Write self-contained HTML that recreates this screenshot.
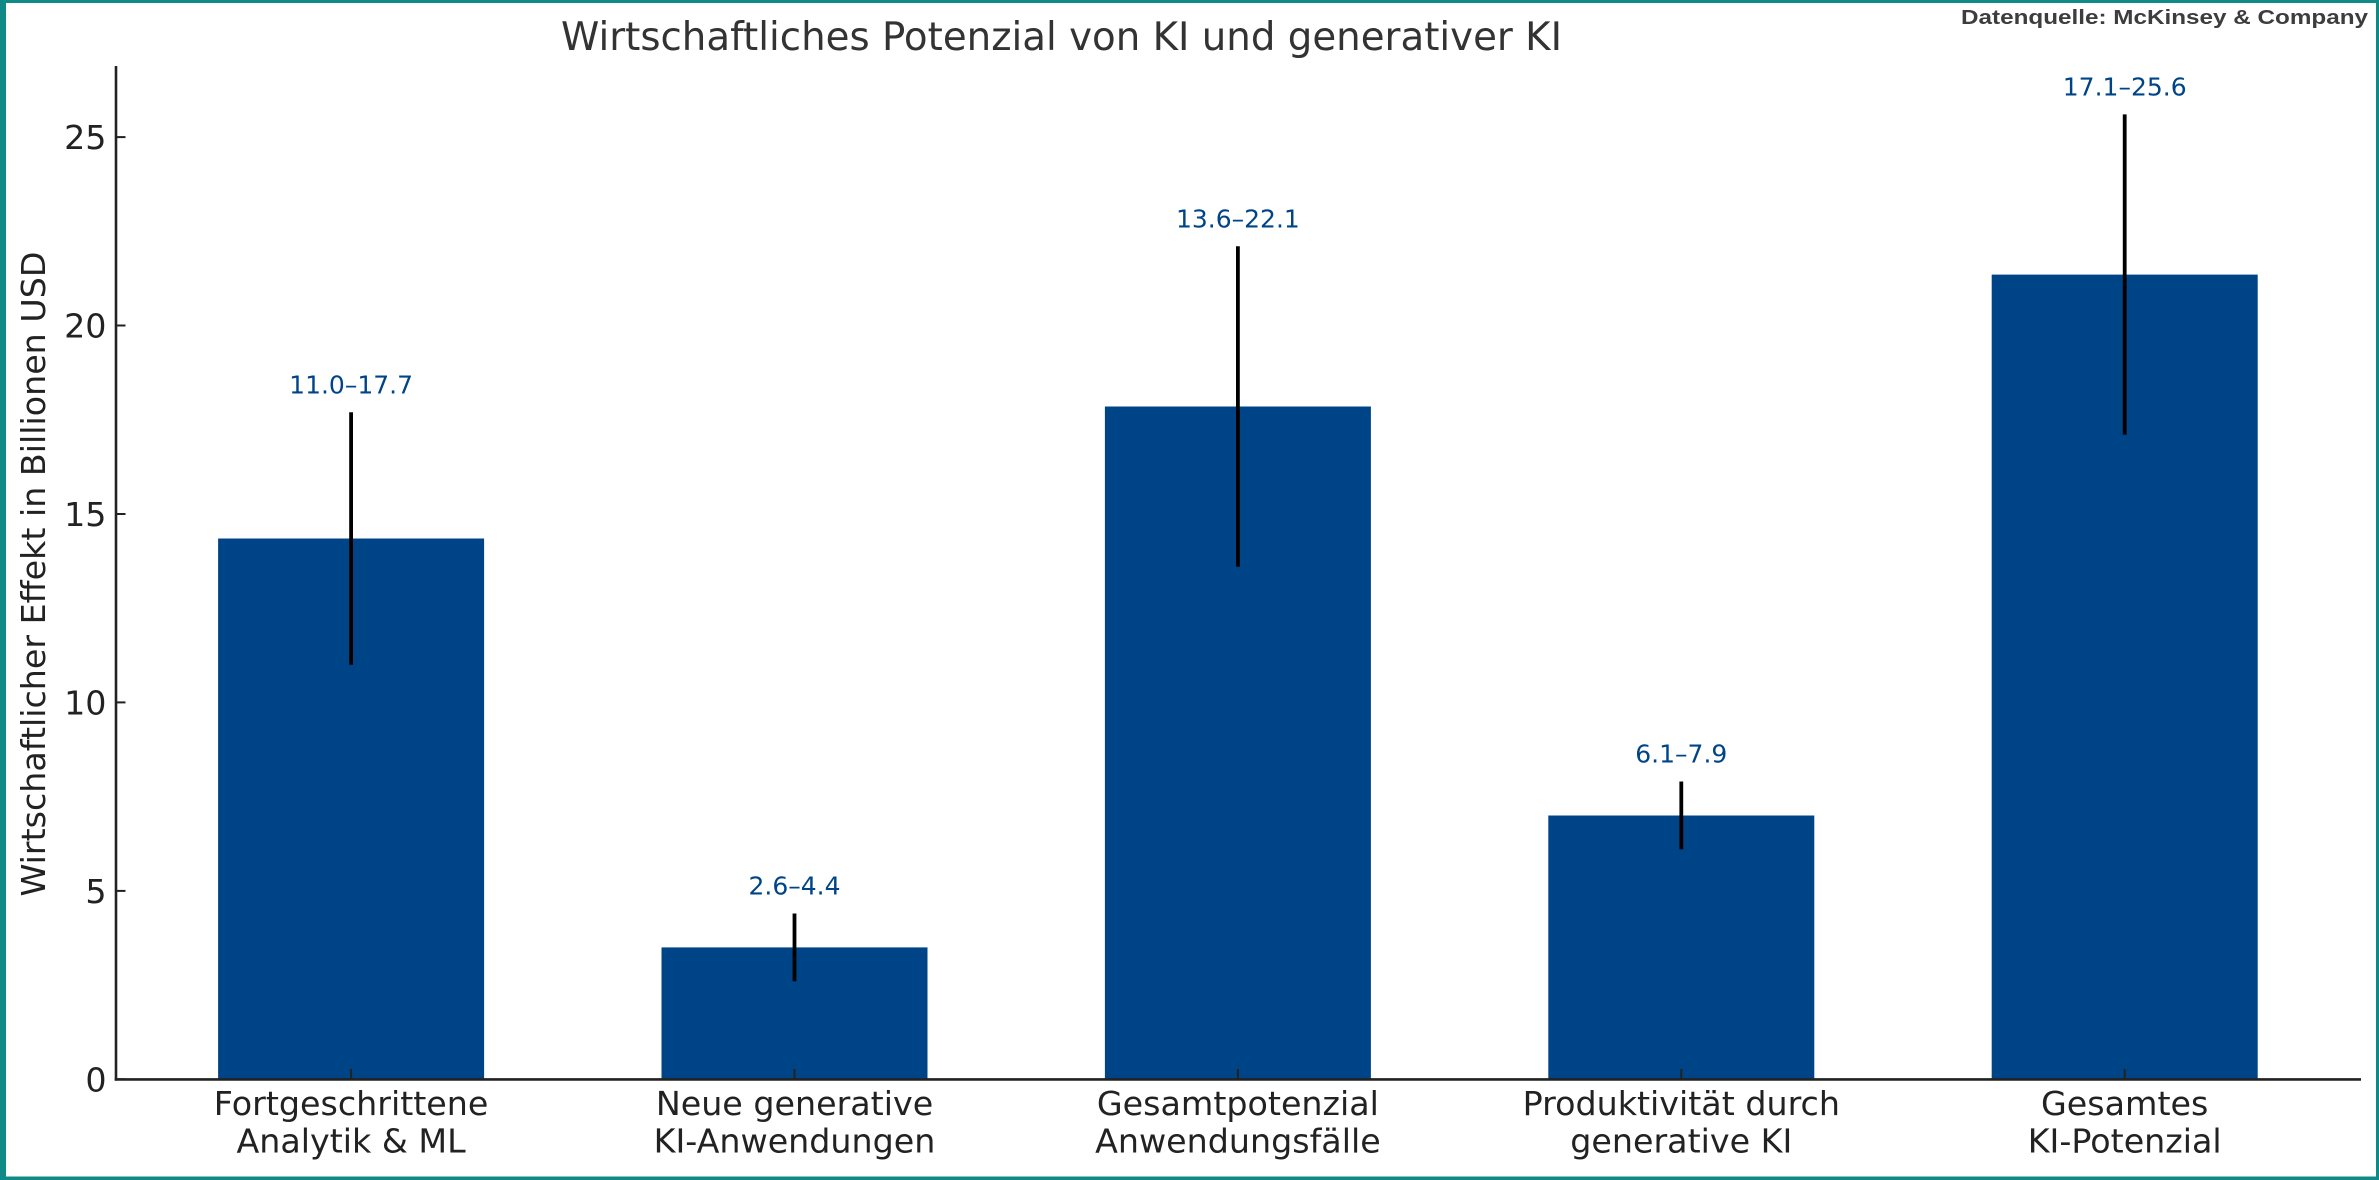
<!DOCTYPE html>
<html><head><meta charset="utf-8"><style>
html,body{margin:0;padding:0;background:#fff;}
svg{display:block;}
text{font-family:"DejaVu Sans","Liberation Sans",sans-serif;}
</style></head><body>
<svg width="2379" height="1180" viewBox="0 0 2379 1180" xmlns="http://www.w3.org/2000/svg">
<rect x="0" y="0" width="2379" height="1180" fill="#fff"/>
<!-- border -->
<rect x="0" y="0" width="2379" height="3" fill="#0f8a87"/>
<rect x="0" y="0" width="6" height="1180" fill="#0f8a87"/>
<rect x="2376" y="0" width="3" height="1180" fill="#0f8a87"/>
<rect x="0" y="1176.5" width="2379" height="3.5" fill="#0f8a87"/>

<!-- title -->
<text x="561" y="50" font-size="39.5" fill="#333" textLength="1001" lengthAdjust="spacingAndGlyphs">Wirtschaftliches Potenzial von KI und generativer KI</text>
<text x="1961" y="24" font-size="20.5" font-weight="bold" fill="#3d3d3d" style="font-family:'Liberation Sans',Arial,sans-serif" textLength="407" lengthAdjust="spacingAndGlyphs">Datenquelle: McKinsey &amp; Company</text>

<!-- bars -->
<g fill="#004488">
<rect x="218.1" y="538.5" width="266" height="541"/>
<rect x="661.5" y="947.4" width="266" height="132.1"/>
<rect x="1104.9" y="406.5" width="266" height="673"/>
<rect x="1548.3" y="815.5" width="266" height="264"/>
<rect x="1991.7" y="274.6" width="266" height="805"/>
</g>

<!-- error bars -->
<g stroke="#000" stroke-width="3.8">
<line x1="351.1" y1="664.7" x2="351.1" y2="412.2"/>
<line x1="794.5" y1="981.3" x2="794.5" y2="913.5"/>
<line x1="1237.9" y1="566.7" x2="1237.9" y2="246.3"/>
<line x1="1681.3" y1="849.4" x2="1681.3" y2="781.5"/>
<line x1="2124.7" y1="434.8" x2="2124.7" y2="114.4"/>
</g>

<!-- value labels -->
<g font-size="25" fill="#004488" text-anchor="middle">
<text x="351.1" y="393.3">11.0–17.7</text>
<text x="794.5" y="894.6">2.6–4.4</text>
<text x="1237.9" y="227.5">13.6–22.1</text>
<text x="1681.3" y="762.7">6.1–7.9</text>
<text x="2124.7" y="95.6">17.1–25.6</text>
</g>

<!-- axes -->
<g stroke="#222" stroke-width="2.6" fill="none">
<line x1="116" y1="66" x2="116" y2="1080.6"/>
<line x1="114.7" y1="1079.4" x2="2361" y2="1079.4"/>
</g>
<!-- ticks -->
<g stroke="#222" stroke-width="2">
<line x1="116" y1="1079.3" x2="125.5" y2="1079.3"/>
<line x1="116" y1="890.9" x2="125.5" y2="890.9"/>
<line x1="116" y1="702.4" x2="125.5" y2="702.4"/>
<line x1="116" y1="514" x2="125.5" y2="514"/>
<line x1="116" y1="325.5" x2="125.5" y2="325.5"/>
<line x1="116" y1="137.1" x2="125.5" y2="137.1"/>
<line x1="351.1" y1="1079" x2="351.1" y2="1069"/>
<line x1="794.5" y1="1079" x2="794.5" y2="1069"/>
<line x1="1237.9" y1="1079" x2="1237.9" y2="1069"/>
<line x1="1681.3" y1="1079" x2="1681.3" y2="1069"/>
<line x1="2124.7" y1="1079" x2="2124.7" y2="1069"/>
</g>

<!-- y tick labels -->
<g font-size="33.3" fill="#222" text-anchor="end">
<text x="106.5" y="1091.3">0</text>
<text x="106.5" y="902.9">5</text>
<text x="106.5" y="714.4">10</text>
<text x="106.5" y="526">15</text>
<text x="106.5" y="337.5">20</text>
<text x="106.5" y="149.1">25</text>
</g>

<!-- y label -->
<text transform="translate(45,574) rotate(-90)" font-size="33.3" fill="#222" text-anchor="middle" textLength="645" lengthAdjust="spacingAndGlyphs">Wirtschaftlicher Effekt in Billionen USD</text>

<!-- x tick labels -->
<g font-size="33.3" fill="#222" text-anchor="middle">
<text x="351.1" y="1115">Fortgeschrittene</text>
<text x="351.1" y="1152.5">Analytik &amp; ML</text>
<text x="794.5" y="1115">Neue generative</text>
<text x="794.5" y="1152.5">KI-Anwendungen</text>
<text x="1237.9" y="1115">Gesamtpotenzial</text>
<text x="1237.9" y="1152.5">Anwendungsfälle</text>
<text x="1681.3" y="1115">Produktivität durch</text>
<text x="1681.3" y="1152.5">generative KI</text>
<text x="2124.7" y="1115">Gesamtes</text>
<text x="2124.7" y="1152.5">KI-Potenzial</text>
</g>
</svg>
</body></html>
